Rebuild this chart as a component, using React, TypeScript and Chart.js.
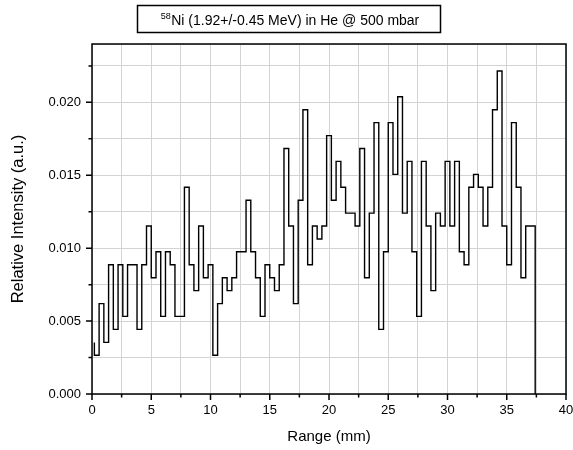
import React, { useEffect, useRef } from "react";
import { Chart, registerables } from "chart.js";

Chart.register(...registerables);

// Histogram bins (range in mm): first bin edge and width
const binStart = 0.2;
const binWidth = 0.4;

// Relative intensity per bin (a.u.)
const intensity: number[] = [
  0.00354, 0.00266, 0.0062, 0.00354, 0.00886, 0.00443, 0.00886, 0.00532, 0.00886, 0.00886,
  0.00443, 0.00886, 0.01152, 0.00797, 0.00975, 0.00532, 0.00975, 0.00886, 0.00532, 0.00532,
  0.01418, 0.00886, 0.00709, 0.01152, 0.00797, 0.00886, 0.00266, 0.0062, 0.00797, 0.00709,
  0.00797, 0.00975, 0.00975, 0.01329, 0.00975, 0.00797, 0.00532, 0.00886, 0.00797, 0.00709,
  0.00886, 0.01683, 0.01152, 0.0062, 0.01329, 0.01949, 0.00886, 0.01152, 0.01063, 0.01152,
  0.01772, 0.01329, 0.01595, 0.01418, 0.0124, 0.0124, 0.01152, 0.01683, 0.00797, 0.0124,
  0.01861, 0.00443, 0.00975, 0.01861, 0.01506, 0.02038, 0.0124, 0.01595, 0.00975, 0.00532,
  0.01595, 0.01152, 0.00709, 0.0124, 0.01152, 0.01595, 0.01152, 0.01595, 0.00975, 0.00886,
  0.01418, 0.01506, 0.01418, 0.01152, 0.01418, 0.01949, 0.02215, 0.01152, 0.00886, 0.01861,
  0.01418, 0.00797, 0.01152,
];

const xTickMajor = [0, 5, 10, 15, 20, 25, 30, 35, 40];
const yTickMajor = [0, 0.005, 0.01, 0.015, 0.02];

const titleMain = "Ni (1.92+/-0.45 MeV) in He @ 500 mbar";
const titleSup = "58";
const xTitle = "Range (mm)";
const yTitle = "Relative Intensity (a.u.)";

const FONT = "'Liberation Sans', Arial, sans-serif";

function buildPoints() {
  const pts: { x: number; y: number }[] = [];
  intensity.forEach((v, i) => pts.push({ x: binStart + i * binWidth, y: v }));
  const end = binStart + intensity.length * binWidth;
  pts.push({ x: end, y: intensity[intensity.length - 1] });
  pts.push({ x: end, y: 0 });
  return pts;
}

const decorPlugin = {
  id: "decor",
  afterDraw(chart: any) {
    const ctx = chart.ctx as CanvasRenderingContext2D;
    const a = chart.chartArea;
    const xs = chart.scales.x;
    const ys = chart.scales.y;
    ctx.save();
    ctx.strokeStyle = "#000";
    ctx.lineWidth = 1.5;
    // frame
    ctx.strokeRect(a.left, a.top, a.right - a.left, a.bottom - a.top);
    // ticks
    ctx.beginPath();
    for (let v = 0; v <= 40 + 1e-9; v += 2.5) {
      const px = xs.getPixelForValue(v);
      const major = Math.abs(v / 5 - Math.round(v / 5)) < 1e-6;
      ctx.moveTo(px, a.bottom);
      ctx.lineTo(px, a.bottom + (major ? 6 : 3.5));
    }
    for (let k = 0; k <= 9; k++) {
      const v = k * 0.0025;
      const py = ys.getPixelForValue(v);
      const major = k % 2 === 0;
      ctx.moveTo(a.left, py);
      ctx.lineTo(a.left - (major ? 6 : 3.5), py);
    }
    ctx.stroke();

    // title box
    ctx.lineWidth = 1.5;
    ctx.strokeRect(137.5, 5.5, 303, 27);
    ctx.fillStyle = "#000";
    ctx.textBaseline = "alphabetic";
    ctx.font = `9px ${FONT}`;
    const wSup = ctx.measureText(titleSup).width;
    ctx.font = `14px ${FONT}`;
    const wMain = ctx.measureText(titleMain).width;
    const start = 290 - (wSup + 0.5 + wMain) / 2;
    ctx.font = `9px ${FONT}`;
    ctx.fillText(titleSup, start, 18.5);
    ctx.font = `14px ${FONT}`;
    ctx.fillText(titleMain, start + wSup + 0.5, 24.5);

    // axis titles
    ctx.textAlign = "center";
    ctx.textBaseline = "middle";
    ctx.font = `15px ${FONT}`;
    ctx.fillText(xTitle, (a.left + a.right) / 2, 437);
    ctx.font = `16.5px ${FONT}`;
    ctx.translate(18, (a.top + a.bottom) / 2);
    ctx.rotate(-Math.PI / 2);
    ctx.fillText(yTitle, 0, 0);
    ctx.restore();
  },
};

export default function App() {
  const ref = useRef<HTMLCanvasElement | null>(null);
  useEffect(() => {
    document.body.style.margin = "0";
    const canvas = ref.current;
    if (!canvas) return;
    const chart = new Chart(canvas, {
      type: "line",
      data: {
        datasets: [
          {
            data: buildPoints(),
            stepped: "after",
            borderColor: "#000",
            borderWidth: 1.4,
            pointRadius: 0,
            fill: false,
          },
        ],
      },
      options: {
        animation: false,
        responsive: false,
        events: [],
        layout: { padding: { left: 0, right: 7, top: 44, bottom: 0 } },
        plugins: { legend: { display: false }, tooltip: { enabled: false }, title: { display: false } },
        scales: {
          x: {
            type: "linear",
            min: 0,
            max: 40,
            afterFit: (s: any) => {
              s.height = 56;
              s.paddingLeft = 0;
              s.paddingRight = 0;
            },
            border: { display: false },
            grid: { color: "#d3d3d3", lineWidth: 1, drawTicks: false },
            ticks: {
              stepSize: 2.5,
              autoSkip: false,
              maxRotation: 0,
              padding: 9,
              color: "#000",
              font: { family: FONT, size: 13 },
              callback: (v: any) => {
                const n = Number(v);
                return xTickMajor.some((m) => Math.abs(m - n) < 1e-6) ? String(n) : "";
              },
            },
          },
          y: {
            type: "linear",
            min: 0,
            max: 0.024,
            afterFit: (s: any) => {
              s.width = 92;
              s.paddingTop = 0;
              s.paddingBottom = 0;
            },
            border: { display: false },
            grid: { color: "#d3d3d3", lineWidth: 1, drawTicks: false },
            ticks: {
              stepSize: 0.0025,
              autoSkip: false,
              padding: 11,
              color: "#000",
              font: { family: FONT, size: 13 },
              callback: (v: any) => {
                const n = Number(v);
                return yTickMajor.some((m) => Math.abs(m - n) < 1e-7) ? n.toFixed(3) : "";
              },
            },
          },
        },
      },
      plugins: [decorPlugin],
    });
    return () => chart.destroy();
  }, []);
  return (
    <div style={{ width: 573, height: 450 }}>
      <canvas ref={ref} width={573} height={450} style={{ display: "block" }} />
    </div>
  );
}
